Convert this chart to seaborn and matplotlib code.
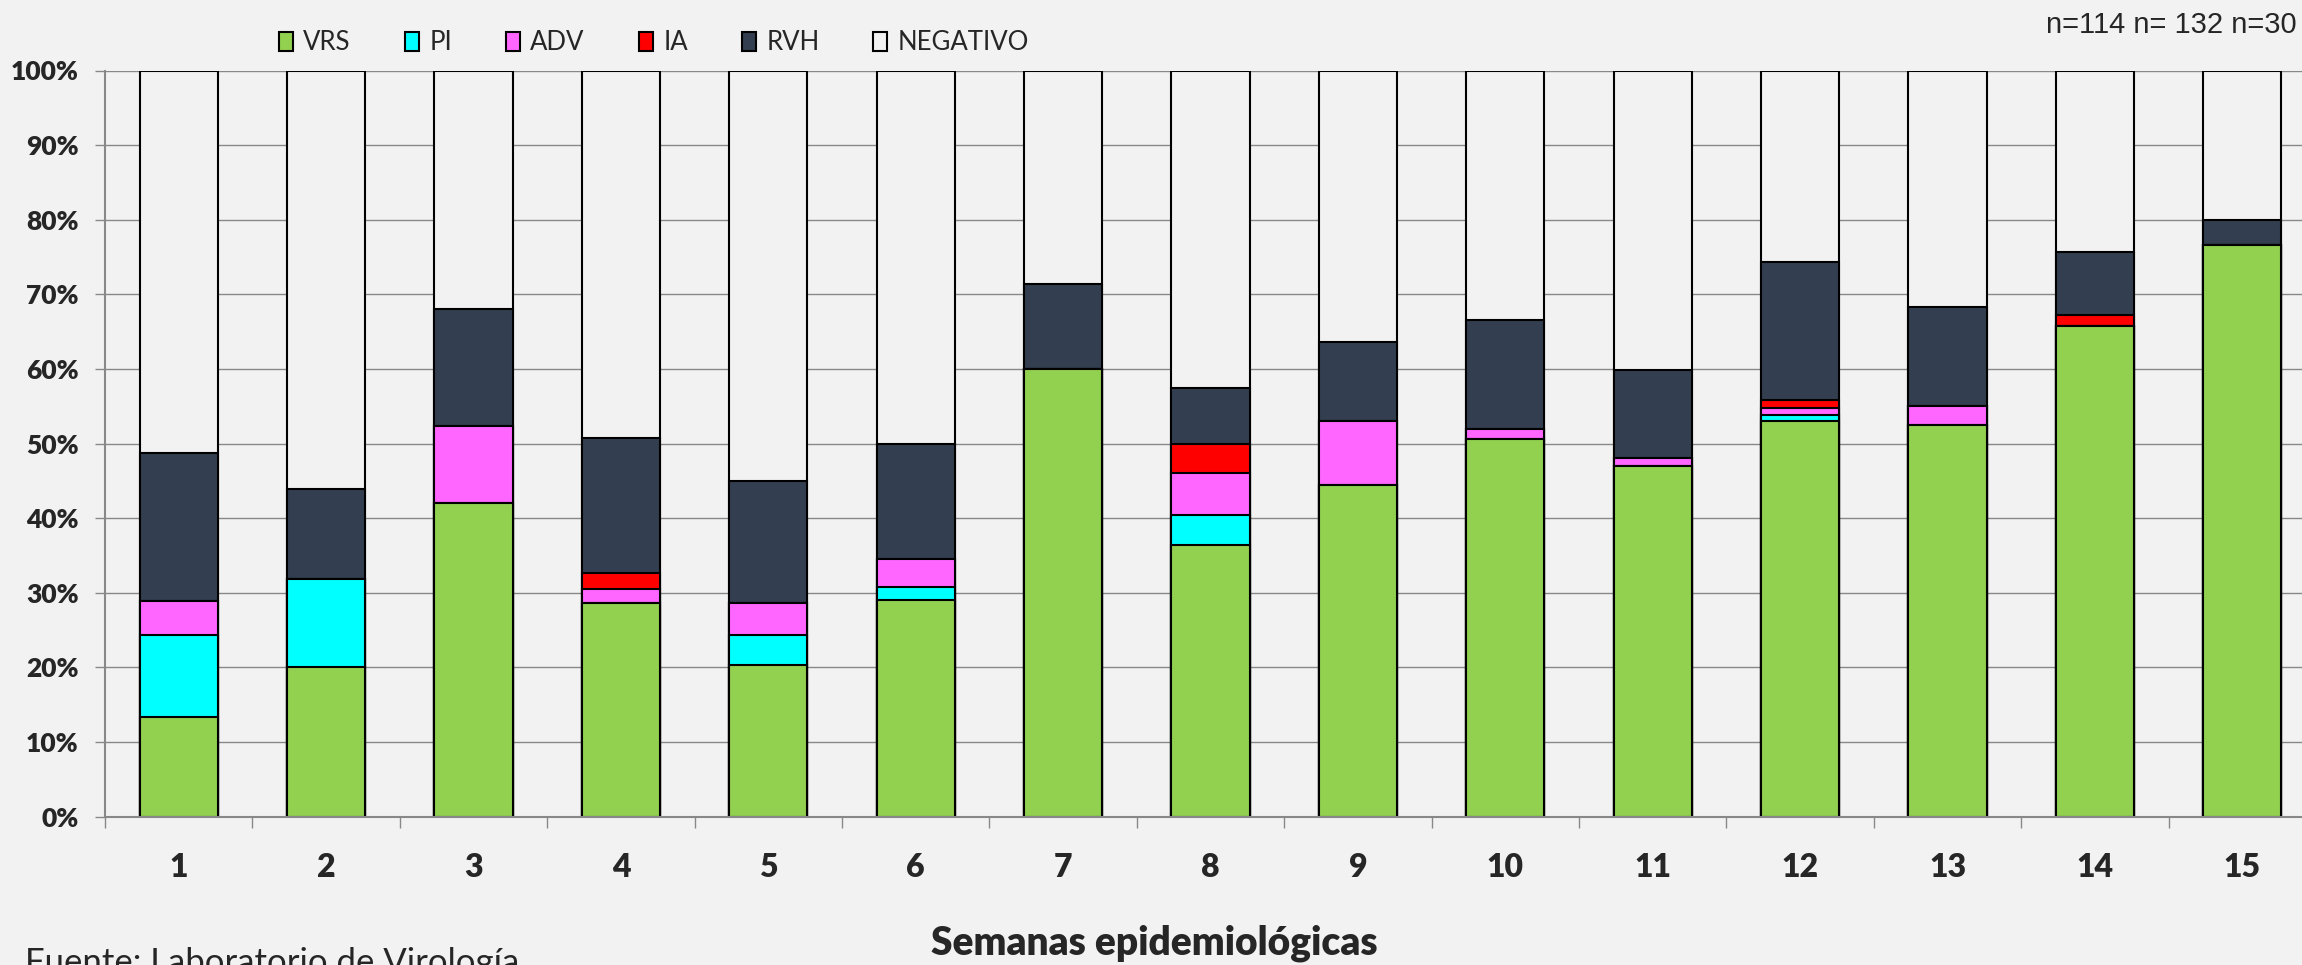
import numpy as np
import pandas as pd
import matplotlib
matplotlib.use("Agg")
import matplotlib.pyplot as plt
from matplotlib.patches import Patch
import seaborn as sns

# ---- data (percentages per epidemiological week) ----
weeks = [str(i) for i in range(1, 16)]
vrs = [13.4, 20.1, 42.0, 28.6, 20.3, 29.0, 60.0, 36.4, 44.4, 50.6, 47.0, 53.0, 52.5, 65.8, 76.6]
pi  = [10.9, 11.7, 0.0, 0.0, 4.0, 1.8, 0.0, 4.0, 0.0, 0.0, 0.0, 0.8, 0.0, 0.0, 0.0]
adv = [4.6, 0.0, 10.3, 1.9, 4.4, 3.7, 0.0, 5.6, 8.6, 1.4, 1.1, 1.0, 2.6, 0.0, 0.0]
ia  = [0.0, 0.0, 0.0, 2.2, 0.0, 0.0, 0.0, 4.0, 0.0, 0.0, 0.0, 1.1, 0.0, 1.5, 0.0]
rvh = [19.9, 12.1, 15.8, 18.1, 16.3, 15.5, 11.4, 7.4, 10.6, 14.6, 11.8, 18.5, 13.2, 8.4, 3.4]
neg = [51.2, 56.1, 31.9, 49.2, 55.0, 50.0, 28.6, 42.6, 36.4, 33.4, 40.1, 25.6, 31.7, 24.3, 20.0]

series_names = ["VRS", "PI", "ADV", "IA", "RVH", "NEGATIVO"]
series_colors = ["#92D050", "#00FFFF", "#FF66FF", "#FF0000", "#333F50", "#F2F2F2"]
ytick_values = list(range(0, 101, 10))
ytick_labels = [f"{v}%" for v in ytick_values]
n_text = "n=114 n= 132 n=30"
xlabel_text = "Semanas epidemiológicas"
source_text = "Fuente: Laboratorio de Virología"

df = pd.DataFrame({"week": weeks, "VRS": vrs, "PI": pi, "ADV": adv,
                   "IA": ia, "RVH": rvh, "NEGATIVO": neg})
cum = df[series_names].cumsum(axis=1)

sns.set_theme(style="white")
plt.rcParams["font.family"] = ["Lato", "DejaVu Sans"]

BG = "#F2F2F2"
GRID = "#888888"
W, H = 2302, 965
fig = plt.figure(figsize=(W / 100, H / 100), dpi=100, facecolor=BG)
ax = fig.add_axes([105 / W, 1 - 816.7 / H, 2211 / W, (816.7 - 70.5) / H])
ax.set_facecolor(BG)
ax.set_axisbelow(True)

# stacked bars: draw cumulative totals from top layer down
for name, color in reversed(list(zip(series_names, series_colors))):
    sns.barplot(x=df["week"], y=cum[name].values, order=weeks, color=color,
                saturation=1, width=0.53, edgecolor="black", linewidth=1.5,
                errorbar=None, ax=ax)

ax.set_xlim(-0.5, 14.5)
ax.set_ylim(0, 100)
ax.set_xlabel("")
ax.set_ylabel("")

ax.set_yticks(ytick_values)
ax.set_yticklabels(ytick_labels, fontsize=19, fontweight="heavy")
ax.yaxis.grid(True, color=GRID, linewidth=1.0)
ax.xaxis.grid(False)
ax.tick_params(axis="y", left=True, length=7, width=1, color=GRID, pad=12)

ax.set_xticks(range(len(weeks)))
ax.set_xticklabels(weeks, fontsize=23, fontweight="heavy")
ax.tick_params(axis="x", which="major", bottom=True, length=0, pad=26)
ax.set_xticks(np.arange(-0.5, len(weeks), 1), minor=True)
ax.tick_params(axis="x", which="minor", bottom=True, length=8, width=1, color=GRID)

for s in ["top", "right"]:
    ax.spines[s].set_visible(False)
for s in ["left", "bottom"]:
    ax.spines[s].set_color(GRID)
    ax.spines[s].set_linewidth(1.5)

handles = [Patch(facecolor=c, edgecolor="black", linewidth=1.5, label=n)
           for n, c in zip(series_names, series_colors)]
fig.legend(handles=handles, loc="center left", bbox_to_anchor=(279 / W, 1 - 43 / H),
           ncol=6, frameon=False, fontsize=18.5, borderpad=0, borderaxespad=0,
           handlelength=0.55, handleheight=0.75, handletextpad=0.4, columnspacing=2.1)

fig.text(2297 / W, 1 - 33 / H, n_text, ha="right", va="baseline", fontsize=21,
         family=["Liberation Sans", "DejaVu Sans"])
fig.text(1154 / W, 1 - 955 / H, xlabel_text, ha="center", va="baseline",
         fontsize=28, fontweight="heavy")
fig.text(25 / W, 1 - 973 / H, source_text, ha="left", va="baseline", fontsize=25)

fig.savefig("out.png", dpi=100, facecolor=BG)
